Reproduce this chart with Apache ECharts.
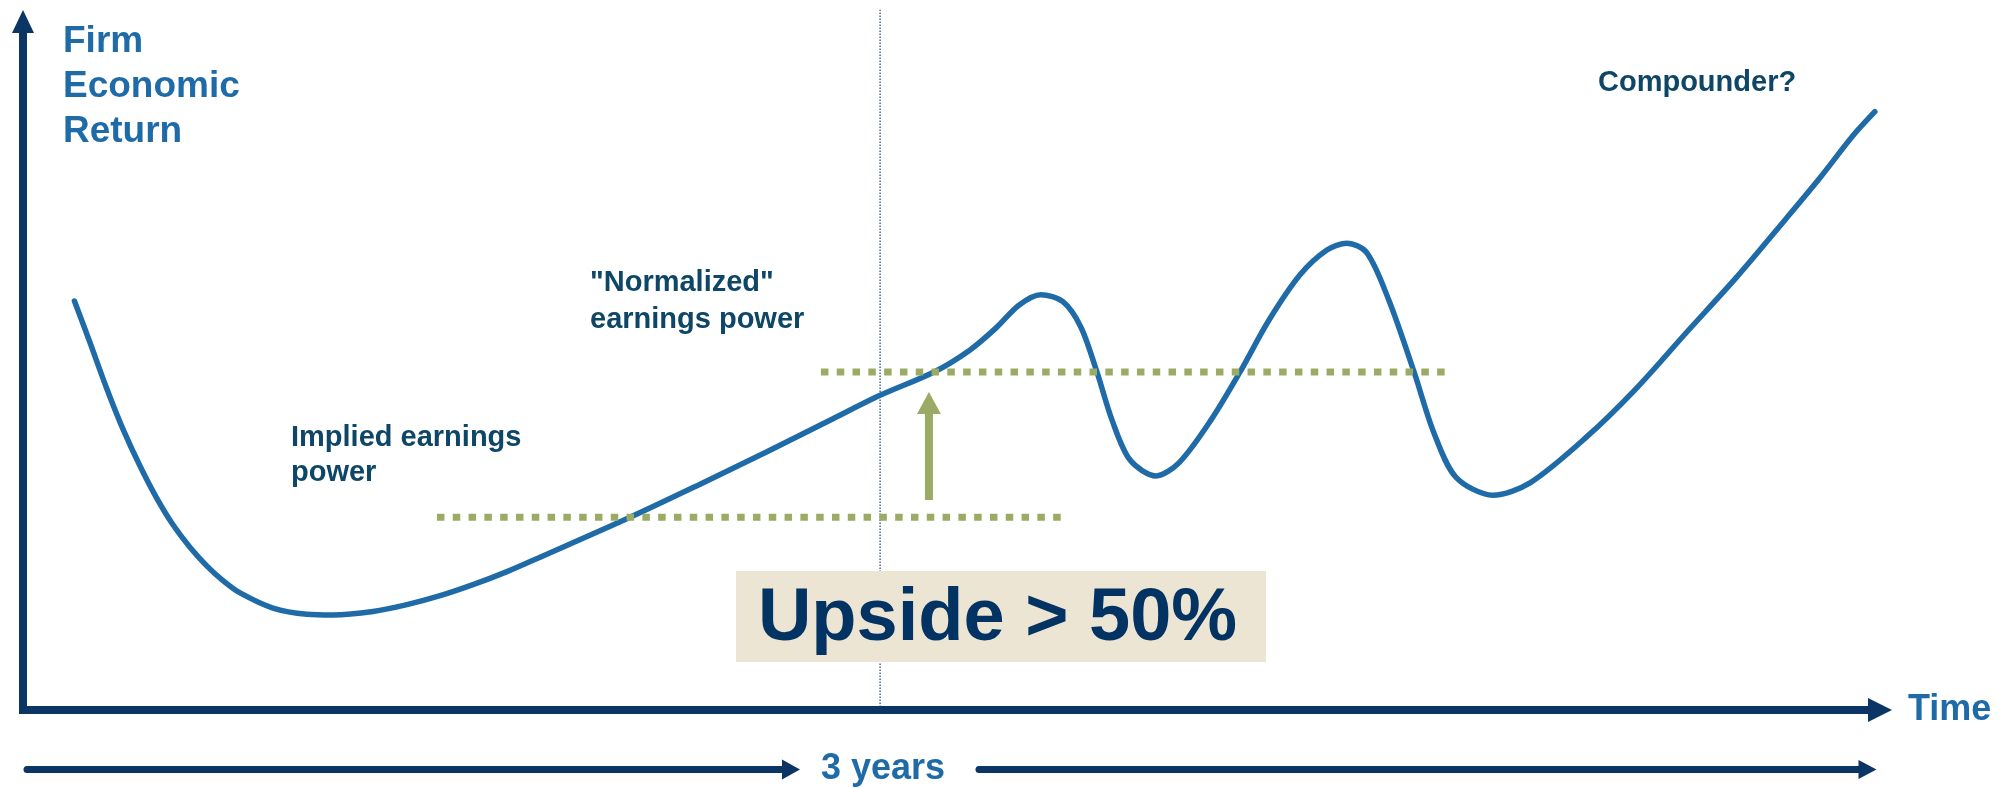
<!DOCTYPE html>
<html>
<head>
<meta charset="utf-8">
<title>Firm Economic Return over Time</title>
<script src="https://cdn.jsdelivr.net/npm/echarts@6/dist/echarts.min.js"></script>
<style>
  html, body { margin: 0; padding: 0; background: #ffffff; }
  #chart { width: 1999px; height: 788px; }
</style>
</head>
<body>
<div id="chart"></div>
<script>
// Economic return path of the firm (x in years, y in an arbitrary return scale 0-100)
const years = [0.18, 0.235, 0.294, 0.35, 0.41, 0.469, 0.525, 0.585, 0.644, 0.70,
  0.76, 0.875, 0.994, 1.085, 1.225, 1.344, 1.46, 1.575, 1.694, 1.81,
  2.125, 2.37, 2.604, 2.835, 3.0, 3.189, 3.315, 3.406, 3.486,
  3.563, 3.64, 3.703, 3.759, 3.812, 3.875, 3.966, 4.046, 4.158, 4.26,
  4.361, 4.47, 4.564, 4.634, 4.704, 4.781, 4.869, 4.939, 5.016, 5.145,
  5.275, 5.474, 5.649, 5.824, 5.999, 6.174, 6.29, 6.405, 6.482];
const returns = [59.4, 53.3, 46.6, 40.8, 35.4, 30.7, 26.9, 23.6, 20.9, 18.8,
  17.0, 14.8, 13.9, 13.8, 14.3, 15.3, 16.6, 18.2, 20.1, 22.2,
  28.0, 32.8, 37.5, 42.3, 45.7, 49.1, 52.3, 55.5, 58.8,
  60.3, 59.3, 55.6, 49.1, 42.1, 36.3, 34.0, 35.9, 42.1, 49.1,
  56.6, 63.2, 66.8, 67.8, 66.4, 59.5, 49.1, 40.2, 33.8, 31.2,
  33.0, 39.7, 46.8, 54.9, 62.9, 71.5, 77.3, 83.4, 86.9];

// Earnings-power levels and the years they span
const impliedLevel = 28.0;
const impliedSpan = [1.449, 3.661];
const normalizedLevel = 49.1;
const normalizedSpan = [2.793, 5.005];

// Investment horizon marker and the re-rating arrow between the two levels
const horizonYears = 3;
const rerateYear = 3.171;
const rerateFrom = 30.5;
const rerateTo = 44.6;

const axisMax = { years: 6.5, ret: 100 };

// Annotation texts
const yTitle = 'Firm\nEconomic\nReturn';
const xTitle = 'Time';
const horizonLabel = '3 years';
const impliedLabel = 'Implied earnings\npower';
const normalizedLabel = '"Normalized"\nearnings power';
const compounderLabel = 'Compounder?';
const upsideLabel = 'Upside > 50%';

const NAVY = '#0a3564';
const BLUE = '#1f6ba8';
const LABEL = '#0e4668';
const GREEN = '#9bab65';
const FONT = '"Liberation Sans", Arial, sans-serif';

const curve = years.map((t, i) => [t, returns[i]]);

const chart = echarts.init(document.getElementById('chart'), null, { renderer: 'canvas' });

const hidden = { axisTick: { show: false }, axisLabel: { show: false }, splitLine: { show: false } };

chart.setOption({
  animation: false,
  backgroundColor: '#ffffff',
  grid: [
    { left: 23, right: 119, top: 21.5, bottom: 78 },
    { left: 27, right: 1208, top: 760, bottom: 18.5 },
    { left: 979, right: 131.5, top: 760, bottom: 18.5 }
  ],
  xAxis: [
    Object.assign({
      type: 'value', gridIndex: 0, min: 0, max: axisMax.years,
      axisLine: {
        show: true, symbol: ['none', 'triangle'], symbolSize: [24, 24],
        lineStyle: { color: NAVY, width: 8, cap: 'square' }
      },
      name: xTitle, nameLocation: 'end', nameGap: 28,
      nameTextStyle: { color: BLUE, fontFamily: FONT, fontWeight: 'bold', fontSize: 36, padding: [0, 0, 7, 0] }
    }, hidden),
    Object.assign({
      type: 'value', gridIndex: 1, min: 0, max: horizonYears,
      axisLine: {
        show: true, symbol: ['none', 'triangle'], symbolSize: [20, 18],
        lineStyle: { color: NAVY, width: 7 }
      },
      name: horizonLabel, nameLocation: 'end', nameGap: 30,
      nameTextStyle: { color: BLUE, fontFamily: FONT, fontWeight: 'bold', fontSize: 36 }
    }, hidden),
    Object.assign({
      type: 'value', gridIndex: 2, min: horizonYears, max: axisMax.years,
      axisLine: {
        show: true, symbol: ['none', 'triangle'], symbolSize: [19, 18],
        lineStyle: { color: NAVY, width: 7 }
      }
    }, hidden)
  ],
  yAxis: [
    Object.assign({
      type: 'value', gridIndex: 0, min: 0, max: axisMax.ret,
      axisLine: {
        show: true, symbol: ['none', 'triangle'], symbolSize: [22, 23],
        lineStyle: { color: NAVY, width: 8 }
      }
    }, hidden),
    { type: 'value', gridIndex: 1, show: false },
    { type: 'value', gridIndex: 2, show: false }
  ],
  series: [
    {
      name: 'horizon',
      type: 'line', xAxisIndex: 0, yAxisIndex: 0, z: 1,
      data: [[horizonYears, 0], [horizonYears, 101.7]],
      clip: false, symbol: 'none', silent: true,
      lineStyle: { color: '#173f7a', width: 1.2, type: [1.5, 1.5] }
    },
    {
      name: 'Firm economic return',
      type: 'line', xAxisIndex: 0, yAxisIndex: 0, z: 3,
      data: curve, smooth: 0.3, symbol: 'none',
      lineStyle: { color: BLUE, width: 5.5, cap: 'round' }
    },
    {
      name: 'Implied earnings power',
      type: 'line', z: 4, symbol: 'none',
      data: [[impliedSpan[0], impliedLevel], [impliedSpan[1], impliedLevel]],
      lineStyle: { color: GREEN, width: 7, type: [7.5, 8.3], cap: 'butt' }
    },
    {
      name: 'Normalized earnings power',
      type: 'line', z: 4, symbol: 'none',
      data: [[normalizedSpan[0], normalizedLevel], [normalizedSpan[1], normalizedLevel]],
      lineStyle: { color: GREEN, width: 7, type: [7.5, 8.3], cap: 'butt' }
    },
    {
      name: 'Re-rating',
      type: 'line', z: 4, symbol: 'none',
      data: [[rerateYear, rerateFrom], [rerateYear, rerateTo - 1.2]],
      lineStyle: { color: GREEN, width: 8, cap: 'butt' }
    },
    {
      name: 'Re-rating head',
      type: 'scatter', z: 4, silent: true,
      data: [[rerateYear, rerateTo]],
      symbol: 'triangle', symbolSize: [24, 22],
      itemStyle: { color: GREEN, opacity: 1 }
    }
  ],
  graphic: [
    {
      type: 'text', x: 63, y: 19.7, z: 10,
      style: { text: yTitle, fill: BLUE, font: 'bold 37px ' + FONT, lineHeight: 45, align: 'left', verticalAlign: 'top' }
    },
    {
      type: 'text', x: 291, y: 420.5, z: 10,
      style: { text: impliedLabel, fill: LABEL, font: 'bold 29px ' + FONT, lineHeight: 35, align: 'left', verticalAlign: 'top' }
    },
    {
      type: 'text', x: 590, y: 264.5, z: 10,
      style: { text: normalizedLabel, fill: LABEL, font: 'bold 29px ' + FONT, lineHeight: 37, align: 'left', verticalAlign: 'top' }
    },
    {
      type: 'text', x: 1598, y: 83, z: 10,
      style: { text: compounderLabel, fill: LABEL, font: 'bold 29px ' + FONT, align: 'left', verticalAlign: 'middle' }
    },
    {
      type: 'rect', z: 10,
      shape: { x: 736, y: 571, width: 530, height: 91 },
      style: { fill: '#ece5d3' }
    },
    {
      type: 'text', x: 997.5, y: 619.4, z: 11,
      style: { text: upsideLabel, fill: '#033363', font: 'bold 74px ' + FONT, align: 'center', verticalAlign: 'middle' }
    }
  ]
});
</script>
</body>
</html>
